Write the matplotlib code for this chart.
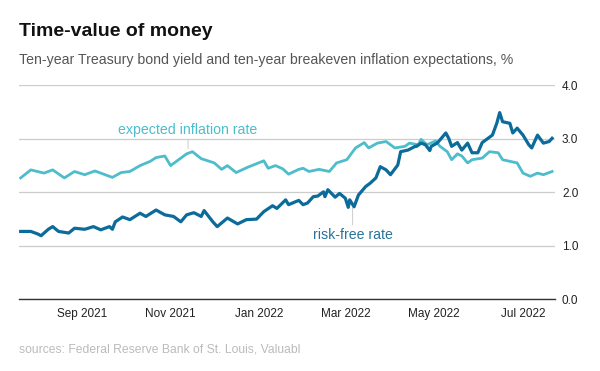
import matplotlib
matplotlib.use("Agg")
import matplotlib.pyplot as plt
import matplotlib.dates as mdates
import pandas as pd

# ten-year breakeven inflation
INFL_DATES = [
    "2021-07-21", "2021-07-28", "2021-08-06", "2021-08-12", "2021-08-20", "2021-08-27",
    "2021-09-03", "2021-09-10", "2021-09-22", "2021-09-28", "2021-10-04", "2021-10-11",
    "2021-10-18", "2021-10-22", "2021-10-28", "2021-11-01", "2021-11-05", "2021-11-12",
    "2021-11-16", "2021-11-22", "2021-12-01", "2021-12-06", "2021-12-10", "2021-12-16",
    "2021-12-24", "2022-01-04", "2022-01-07", "2022-01-12", "2022-01-17", "2022-01-21",
    "2022-01-28", "2022-01-31", "2022-02-04", "2022-02-11", "2022-02-18", "2022-02-23",
    "2022-03-02", "2022-03-08", "2022-03-14", "2022-03-17", "2022-03-23", "2022-03-29",
    "2022-04-04", "2022-04-11", "2022-04-14", "2022-04-20", "2022-04-22", "2022-04-26",
    "2022-05-02", "2022-05-05", "2022-05-10", "2022-05-13", "2022-05-17", "2022-05-20",
    "2022-05-24", "2022-05-27", "2022-06-03", "2022-06-08", "2022-06-14", "2022-06-17",
    "2022-06-22", "2022-06-27", "2022-07-01", "2022-07-06", "2022-07-11", "2022-07-15",
    "2022-07-21",
]
INFL_VALUES = [
    2.27, 2.42, 2.36, 2.42, 2.27, 2.39,
    2.33, 2.40, 2.28, 2.37, 2.39, 2.50,
    2.58, 2.65, 2.68, 2.50, 2.58, 2.72,
    2.76, 2.63, 2.55, 2.43, 2.50, 2.37,
    2.47, 2.59, 2.45, 2.50, 2.44, 2.34,
    2.43, 2.45, 2.39, 2.43, 2.39, 2.55,
    2.61, 2.83, 2.93, 2.83, 2.92, 2.95,
    2.83, 2.86, 2.92, 2.89, 2.99, 2.89,
    2.96, 2.86, 2.76, 2.61, 2.72, 2.68,
    2.55, 2.61, 2.64, 2.76, 2.74, 2.61,
    2.58, 2.55, 2.36, 2.30, 2.36, 2.33,
    2.39,
]

# ten-year treasury yield
RF_DATES = [
    "2021-07-21", "2021-07-28", "2021-08-02", "2021-08-04", "2021-08-09", "2021-08-12",
    "2021-08-16", "2021-08-23", "2021-08-27", "2021-09-03", "2021-09-09", "2021-09-14",
    "2021-09-20", "2021-09-22", "2021-09-24", "2021-09-29", "2021-10-04", "2021-10-11",
    "2021-10-15", "2021-10-22", "2021-10-28", "2021-11-03", "2021-11-08", "2021-11-12",
    "2021-11-17", "2021-11-22", "2021-11-24", "2021-11-30", "2021-12-03", "2021-12-10",
    "2021-12-17", "2021-12-23", "2021-12-30", "2022-01-04", "2022-01-10", "2022-01-13",
    "2022-01-19", "2022-01-21", "2022-01-28", "2022-01-31", "2022-02-03", "2022-02-07",
    "2022-02-10", "2022-02-14", "2022-02-15", "2022-02-17", "2022-02-22", "2022-02-25",
    "2022-03-01", "2022-03-03", "2022-03-04", "2022-03-07", "2022-03-10", "2022-03-15",
    "2022-03-18", "2022-03-22", "2022-03-25", "2022-03-29", "2022-04-01", "2022-04-06",
    "2022-04-08", "2022-04-13", "2022-04-18", "2022-04-19", "2022-04-22", "2022-04-25",
    "2022-04-28", "2022-04-29", "2022-05-03", "2022-05-05", "2022-05-09", "2022-05-11",
    "2022-05-13", "2022-05-17", "2022-05-20", "2022-05-24", "2022-05-27", "2022-05-31",
    "2022-06-03", "2022-06-07", "2022-06-10", "2022-06-13", "2022-06-15", "2022-06-17",
    "2022-06-22", "2022-06-24", "2022-06-27", "2022-07-01", "2022-07-05", "2022-07-07",
    "2022-07-11", "2022-07-15", "2022-07-19", "2022-07-21",
]
RF_VALUES = [
    1.27, 1.27, 1.22, 1.19, 1.31, 1.36,
    1.27, 1.24, 1.33, 1.31, 1.36, 1.30,
    1.36, 1.31, 1.45, 1.54, 1.49, 1.61,
    1.55, 1.67, 1.58, 1.55, 1.45, 1.58,
    1.62, 1.55, 1.66, 1.45, 1.36, 1.52,
    1.41, 1.49, 1.50, 1.64, 1.75, 1.70,
    1.86, 1.77, 1.85, 1.77, 1.80, 1.92,
    1.93, 2.01, 1.92, 2.05, 1.91, 1.98,
    1.89, 1.72, 1.86, 1.73, 1.95, 2.11,
    2.17, 2.27, 2.48, 2.42, 2.33, 2.51,
    2.76, 2.79, 2.86, 2.86, 2.92, 2.89,
    2.78, 2.86, 2.92, 2.98, 3.11, 3.01,
    2.86, 2.93, 2.79, 2.92, 2.74, 2.74,
    2.93, 3.01, 3.07, 3.29, 3.49, 3.32,
    3.29, 3.11, 3.20, 3.07, 2.89, 2.83,
    3.07, 2.92, 2.95, 3.01,
]

Y_TICKS = [0.0, 1.0, 2.0, 3.0, 4.0]
X_TICKS = ["2021-09-01", "2021-11-01", "2022-01-01", "2022-03-01", "2022-05-01", "2022-07-01"]

LIGHT = "#4dbccb"
DARK = "#0b6b9a"

plt.rcParams["font.family"] = ["Liberation Sans", "DejaVu Sans"]

infl_dates = pd.to_datetime(INFL_DATES)
rf_dates = pd.to_datetime(RF_DATES)

fig = plt.figure(figsize=(6, 3.71), dpi=100)
ax = fig.add_axes([0.032, 0.193, 0.893, 0.577])

ax.plot(infl_dates, INFL_VALUES, color=LIGHT, linewidth=2.0, solid_joinstyle="round", zorder=3)
ax.plot(rf_dates, RF_VALUES, color=DARK, linewidth=2.3, solid_joinstyle="round", zorder=4)

ax.set_ylim(0, 4)
ax.set_xlim(pd.Timestamp("2021-07-20"), pd.Timestamp("2022-07-23"))
ax.set_yticks(Y_TICKS)
ax.set_yticklabels([f"{v:.1f}" for v in Y_TICKS])
ax.yaxis.tick_right()
ax.set_xticks(pd.to_datetime(X_TICKS))
ax.xaxis.set_major_formatter(mdates.DateFormatter("%b %Y"))
ax.tick_params(axis="x", length=0, pad=6, labelsize=8.5, labelcolor="#222222")
ax.tick_params(axis="y", length=0, pad=5, labelsize=8.5, labelcolor="#222222")
ax.grid(axis="y", color="#cccccc", linewidth=0.9)
for side in ["top", "left", "right"]:
    ax.spines[side].set_visible(False)
ax.spines["bottom"].set_color("#333333")
ax.spines["bottom"].set_linewidth(1.0)
ax.set_axisbelow(True)

# direct labels with thin leader lines
ax.annotate("expected inflation rate", xy=(pd.Timestamp("2021-11-13"), 2.82),
            xytext=(pd.Timestamp("2021-11-13"), 3.03), ha="center", va="bottom",
            color=LIGHT, fontsize=10.2,
            arrowprops=dict(arrowstyle="-", color="#cccccc", linewidth=0.7, shrinkA=0, shrinkB=0))
ax.annotate("risk-free rate", xy=(pd.Timestamp("2022-03-06"), 1.71),
            xytext=(pd.Timestamp("2022-03-06"), 1.34), ha="center", va="top",
            color="#2a7398", fontsize=10.2,
            arrowprops=dict(arrowstyle="-", color="#cccccc", linewidth=0.7, shrinkA=0, shrinkB=0))

fig.text(0.032, 0.903, "Time-value of money", fontsize=14, fontweight="bold", color="#111111")
fig.text(0.032, 0.827, "Ten-year Treasury bond yield and ten-year breakeven inflation expectations, %",
         fontsize=10.2, color="#555555")
fig.text(0.032, 0.051, "sources: Federal Reserve Bank of St. Louis, Valuabl", fontsize=8.7, color="#bbbbbb")

fig.savefig("out.png", dpi=100)
